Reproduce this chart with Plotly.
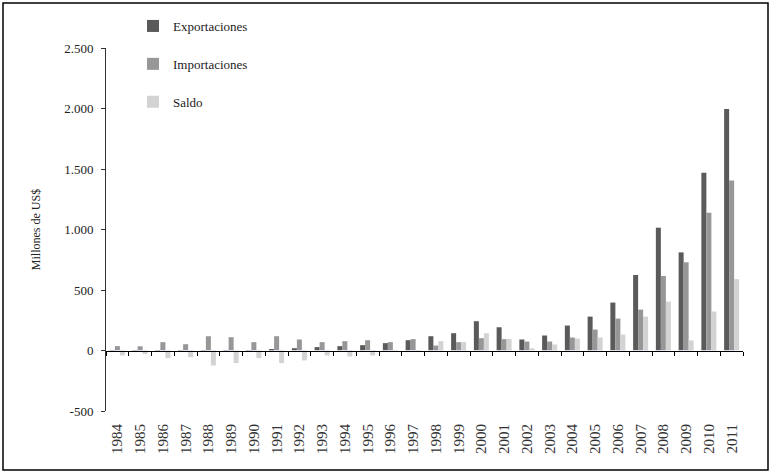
import plotly.graph_objects as go

years = [str(y) for y in range(1984, 2012)]
exportaciones = [3, 3, 3, 2, 3, 3, 3, 8, 19, 28, 36, 44, 61, 85, 118, 143, 242, 192,
                 91, 124, 206, 280, 396, 624, 1015, 811, 1469, 1995]
importaciones = [36, 35, 69, 52, 118, 110, 69, 118, 91, 69, 77, 85, 69, 94, 41, 69, 102, 94,
                 74, 74, 107, 173, 264, 338, 616, 729, 1139, 1405]
saldo = [-41, -30, -63, -55, -124, -104, -63, -104, -82, -41, -50, -41, -8, -3, 77, 69, 143, 95,
         19, 50, 99, 107, 132, 280, 404, 83, 322, 590]
y_tickvals = [-500, 0, 500, 1000, 1500, 2000, 2500]
y_ticktext = ["-500", "0", "500", "1.000", "1.500", "2.000", "2.500"]

W, H = 771, 473
# target plot area in page pixels: x 106..743, y 48..411
ML, MT = 106, 48
pw, ph = 743 - 106, 411 - 48
MR, MB = W - ML - pw, H - MT - ph

font = "Liberation Serif"
fig = go.Figure()
series = [("Exportaciones", exportaciones, "#5a5a5a"),
          ("Importaciones", importaciones, "#979797"),
          ("Saldo", saldo, "#d3d3d3")]
for name, vals, col in series:
    fig.add_trace(go.Bar(x=years, y=vals, name=name, marker_color=col,
                         marker_line_width=0, legendgroup=name))
# dummy trace for label axis
fig.add_trace(go.Bar(x=years, y=[0] * len(years), xaxis="x2", showlegend=False,
                     hoverinfo="skip", marker_color="rgba(0,0,0,0)"))

y0frac = 500 / 3000
fig.update_layout(
    width=W, height=H,
    margin=dict(l=ML, r=MR, t=MT, b=MB, autoexpand=False),
    paper_bgcolor="white", plot_bgcolor="white",
    font=dict(family=font, size=12, color="#222"),
    barmode="group", bargap=0.34, bargroupgap=0,
    xaxis=dict(type="category", anchor="free", position=y0frac, showline=True,
               linecolor="black", linewidth=1, ticks="outside", tickson="boundaries",
               ticklen=4, tickcolor="black", showticklabels=False, showgrid=False,
               zeroline=False, automargin=False),
    xaxis2=dict(type="category", overlaying="x", matches="x", anchor="y", side="bottom",
                showline=False, ticks="", showgrid=False, tickangle=-90, automargin=False,
                tickfont=dict(size=15, family=font, color="#333"), ticklabelstandoff=9),
    yaxis=dict(range=[-500, 2500], tickvals=y_tickvals, ticktext=y_ticktext,
               showline=True, linecolor="#333", linewidth=1, ticks="outside", ticklen=4,
               tickcolor="#333", showgrid=False, zeroline=False, ticklabelstandoff=5,
               automargin=False,
               title=dict(text="Millones de US$", standoff=20, font=dict(size=12)),
               tickfont=dict(size=13)),
    legend=dict(x=(133 - ML) / pw, y=1 + (MT - 11) / ph, xanchor="left", yanchor="top",
                tracegroupgap=18, font=dict(size=13), bgcolor="rgba(0,0,0,0)",
                itemwidth=30),
    showlegend=True,
)
# outer frame (page pixels 3..768 x 3..470)
fig.add_shape(type="rect", xref="paper", yref="paper",
              x0=(3 - ML) / pw, x1=(768 - ML) / pw,
              y0=-(470 - MT - ph) / ph, y1=1 + (MT - 3) / ph,
              line=dict(color="black", width=1.5), fillcolor="rgba(0,0,0,0)")
fig.write_html("out.html", config={"displayModeBar": False},
               post_script="document.body.style.margin='0px';document.body.style.overflow='hidden';")
